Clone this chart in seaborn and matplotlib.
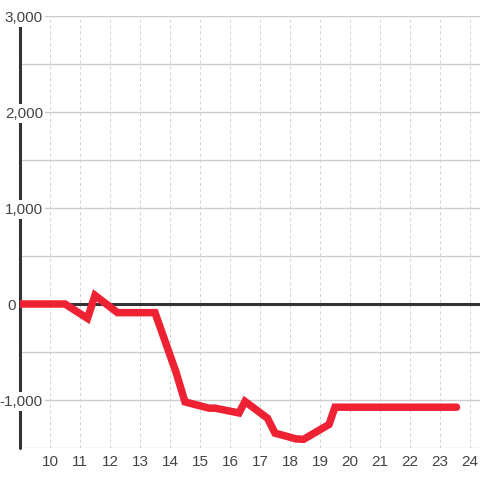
import matplotlib
matplotlib.use('Agg')
import matplotlib.pyplot as plt
import seaborn as sns
import pandas as pd

# 数据
hours = [9.0, 10.5, 11.25, 11.5, 12.25, 13.5, 14.2, 14.5, 15.3, 15.5,
         16.3, 16.5, 17.25, 17.5, 18.2, 18.45, 19.3, 19.5, 23.55]
values = [0, 0, -150, 90, -90, -90, -710, -1020, -1085, -1085,
          -1135, -1015, -1190, -1345, -1405, -1410, -1255, -1075, -1075]
x_ticks = list(range(10, 25))
y_ticks = list(range(-1500, 3001, 500))
y_labels = [-1000, 0, 1000, 2000, 3000]

sns.set_theme(style='white')
plt.rcParams['font.family'] = ['Liberation Sans', 'DejaVu Sans']

fig = plt.figure(figsize=(4.8, 4.8), dpi=100)
ax = fig.add_axes([20 / 480, 32 / 480, 460 / 480, 432 / 480])

df = pd.DataFrame({'hour': hours, 'value': values})
sns.lineplot(data=df, x='hour', y='value', color='#ee2233', lw=5.4, ax=ax,
             zorder=3, solid_joinstyle='miter')

ax.set_xlim(9, 9 + 460 / 30)
ax.set_ylim(-1500, 3000)
ax.set_xticks(x_ticks)
ax.set_yticks(y_ticks)
ax.set_yticklabels([])
ax.set_xlabel('')
ax.set_ylabel('')
for s in ax.spines.values():
    s.set_visible(False)

ax.set_axisbelow(True)
ax.grid(axis='y', color='#cccccc', lw=1, ls='-')
ax.grid(axis='x', color='#d0d0d0', lw=0.7, ls=(0, (3, 3)))
ax.tick_params(axis='both', length=0)
ax.tick_params(axis='x', pad=5, labelsize=11, labelcolor='#444444')

# 左轴线和零线
ax.axvline(9, color='#333333', lw=2.2, zorder=2, clip_on=False)
ax.axhline(0, color='#333333', lw=2.2, zorder=2)

# y轴标签（白底遮住轴线）
for v in y_labels:
    dx = -4 if v == 0 else 23
    ax.annotate(f'{v:,}', xy=(0, v), xycoords=('axes fraction', 'data'),
                xytext=(dx, 0), textcoords='offset pixels', ha='right',
                va='center_baseline', fontsize=11, color='#444444',
                bbox=dict(fc='white', ec='none', pad=1.5), zorder=2.6)

plt.savefig('out.png', dpi=100)
